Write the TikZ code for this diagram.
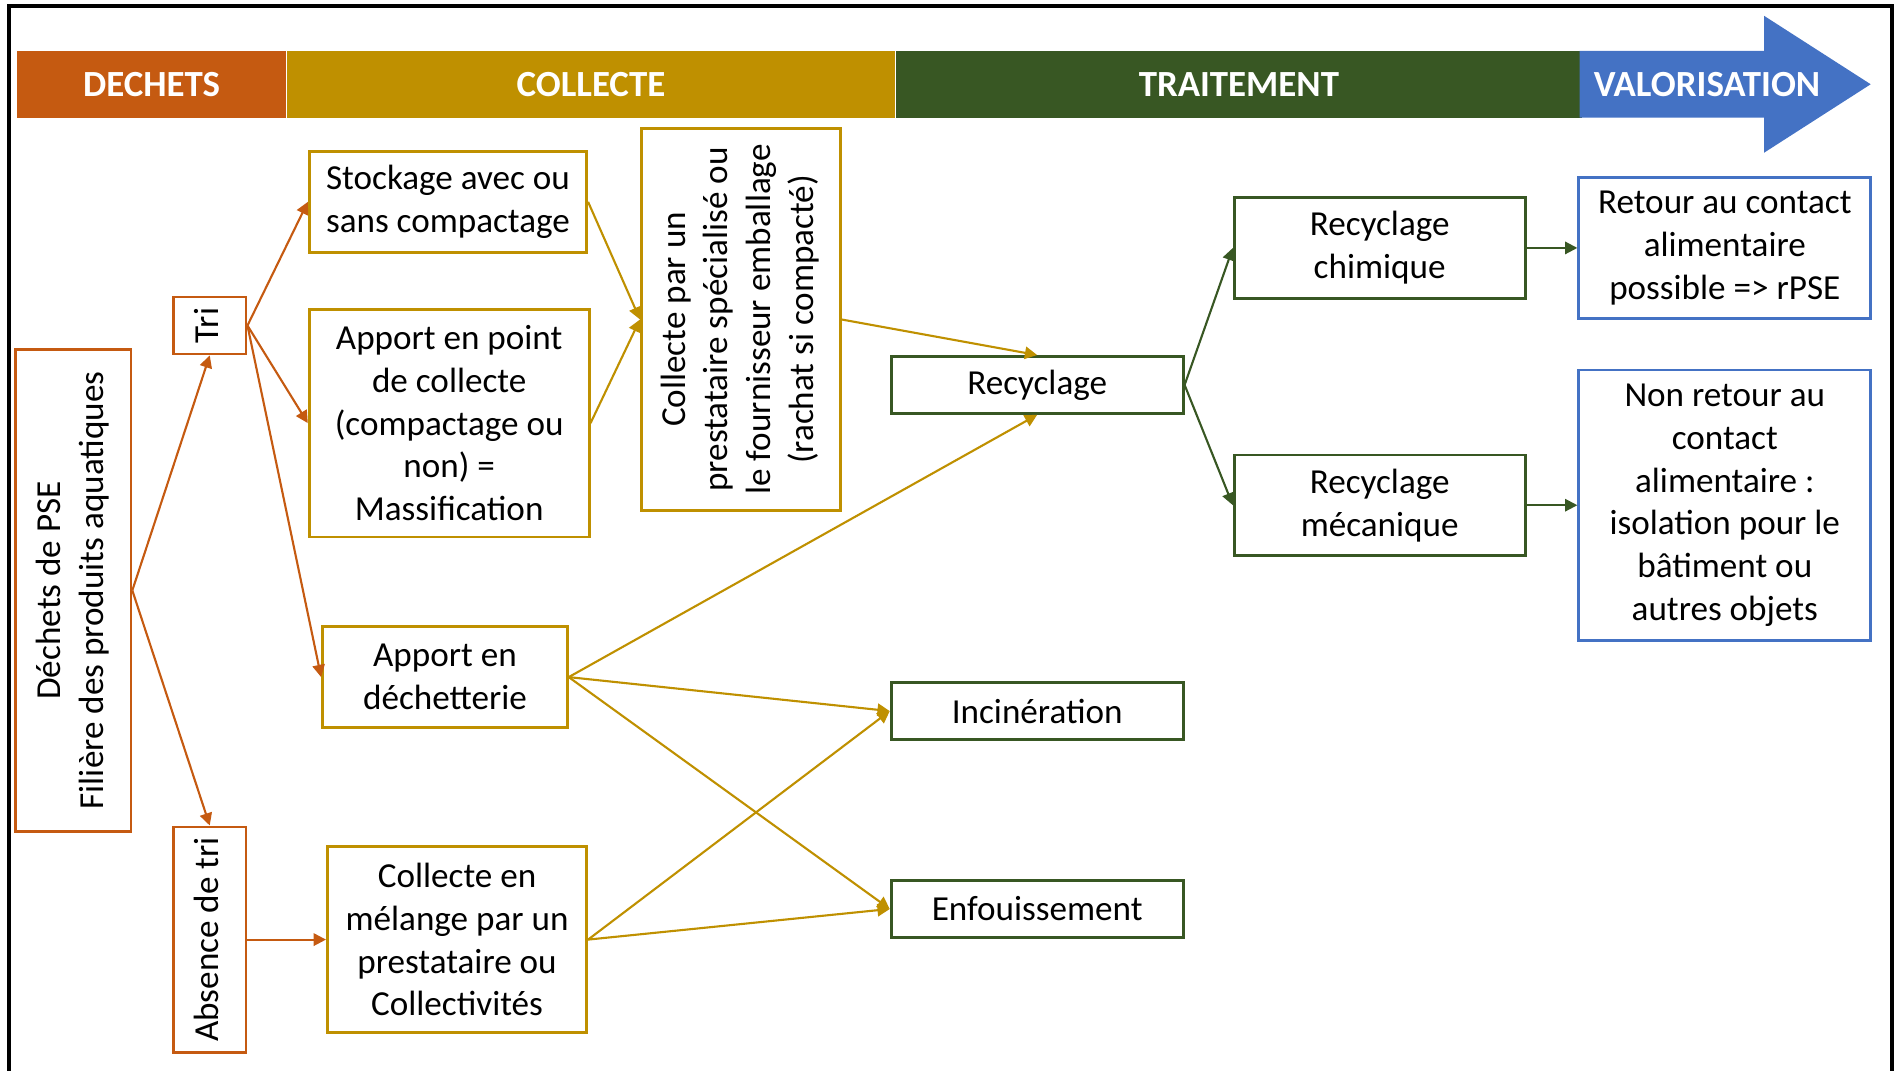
\documentclass[tikz,border=0pt]{standalone}
\usepackage{fontspec}
\setmainfont{Carlito}
\usepackage{graphicx}
\usetikzlibrary{arrows.meta}
\usetikzlibrary{positioning}
\definecolor{orange}{RGB}{197,90,17}
\definecolor{gold}{RGB}{191,144,0}
\definecolor{green}{RGB}{56,87,35}
\definecolor{blue}{RGB}{68,114,196}
\newcommand{\vtext}[1]{\rotatebox{90}{\begin{tabular}{@{}c@{}}#1\end{tabular}}}

\begin{document}
\begin{tikzpicture}[x=0.012124cm,y=-0.012124cm]

		\tikzset{line/.style={draw,line width=0.6pt}}
		\tikzset{arrow/.style={line,-{Triangle[length=3.5pt,width=3.5pt]}}}
		\tikzset{box/.style={draw,line width=0.8pt,align=center,inner sep=2pt,font=\fontsize{10}{12.2}\selectfont}}
		\tikzset{phase/.style={fill=#1,text=white,font=\fontsize{10.5}{12}\selectfont\bfseries,minimum height=0.667cm,inner sep=0pt}}

		\useasboundingbox (0,0) rectangle (1568,883);
		\draw[line width=1pt] (7.5,883) -- (7.5,5) -- (1560.5,5) -- (1560.5,883);

		% Banner: phases
		\node[phase=orange, minimum width=2.692cm] (pdech) at (125,69.5) {DECHETS};
		\node[phase=gold, minimum width=6.074cm, right=0pt of pdech] (pcoll) {COLLECTE};
		\node[phase=green, minimum width=6.862cm, right=0pt of pcoll] (ptrait) {TRAITEMENT};
		\fill[blue] (1303,42) -- (1455,42) -- (1455,13) -- (1543,69.5) -- (1455,126) -- (1455,97) -- (1303,97) -- cycle;
		\node[text=white, font=\fontsize{10.5}{12}\selectfont\bfseries] (pval) at (1408,69.5) {VALORISATION};

		\node[box, draw=orange, minimum width=1.152cm, minimum height=4.825cm] (dech) at (60.5,487) {\vtext{Déchets de PSE\\Filière des produits aquatiques}};
		\node[box, draw=orange, minimum width=0.727cm, minimum height=0.570cm] (tri) at (173,268.5) {\vtext{Tri}};
		\node[box, draw=orange, minimum width=0.727cm, minimum height=2.255cm] (abs) at (173,775) {\vtext{Absence de tri}};

		\node[box, draw=gold, minimum width=2.776cm, minimum height=1.006cm] (stock) at (369.5,166.5) {Stockage avec ou\\sans compactage};
		\node[box, draw=gold, minimum width=2.801cm, minimum height=2.279cm] (apt) at (370.5,349) {Apport en point\\de collecte\\(compactage ou\\non) =\\Massification};
		\node[box, draw=gold, minimum width=2.449cm, minimum height=1.006cm] (adech) at (367,558.5) {Apport en\\déchetterie};
		\node[box, draw=gold, minimum width=2.594cm, minimum height=1.867cm] (melange) at (377,775) {Collecte en\\mélange par un\\prestataire ou\\Collectivités};
		\node[box, draw=gold, minimum width=1.988cm, minimum height=3.819cm] (prest) at (611,263.5) {\vtext{Collecte par un\\prestataire spécialisé ou\\le fournisseur emballage\\(rachat si compacté)}};

		\node[box, draw=green, minimum width=2.922cm, minimum height=0.570cm] (recyc) at (855.5,317.5) {Recyclage};
		\node[box, draw=green, minimum width=2.922cm, minimum height=0.570cm] (incin) at (855.5,586.5) {Incinération};
		\node[box, draw=green, minimum width=2.922cm, minimum height=0.570cm, below=1.382cm of incin] (enfou) {Enfouissement};
		\node[box, draw=green, minimum width=2.910cm, minimum height=1.006cm] (chim) at (1138,204.5) {Recyclage\\chimique};
		\node[box, draw=green, minimum width=2.910cm, minimum height=1.006cm, below=1.540cm of chim] (meca) {Recyclage\\mécanique};

		\node[box, draw=blue, minimum width=2.922cm, minimum height=1.406cm, right=0.509cm of chim] (retour) {Retour au contact\\alimentaire\\possible => rPSE};
		\node[box, draw=blue, minimum width=2.922cm, minimum height=2.704cm, right=0.509cm of meca] (nonret) {Non retour au\\contact\\alimentaire :\\isolation pour le\\bâtiment ou\\autres objets};

		\path[arrow,orange] (dech.east) to (tri.south);
		\path[arrow,orange] (dech.east) to (abs.north);
		\path[arrow,orange] (tri.east) to (stock.west);
		\path[arrow,orange] (tri.east) to (apt.west);
		\path[arrow,orange] (tri.east) to (adech.west);
		\path[arrow,orange] (abs.east) to (melange.west);

		\path[arrow,gold] (stock.east) to (prest.west);
		\path[arrow,gold] (apt.east) to (prest.west);
		\path[arrow,gold] (prest.east) to (recyc.north);
		\path[arrow,gold] (adech.east) to (recyc.south);
		\path[arrow,gold] (adech.east) to (incin.west);
		\path[arrow,gold] (adech.east) to (enfou.west);
		\path[arrow,gold] (melange.east) to (incin.west);
		\path[arrow,gold] (melange.east) to (enfou.west);

		\path[arrow,green] (recyc.east) to (chim.west);
		\path[arrow,green] (recyc.east) to (meca.west);
		\path[arrow,green] (chim.east) to (retour.west);
		\path[arrow,green] (meca.east) to (nonret.west);

	\end{tikzpicture}
\end{document}
